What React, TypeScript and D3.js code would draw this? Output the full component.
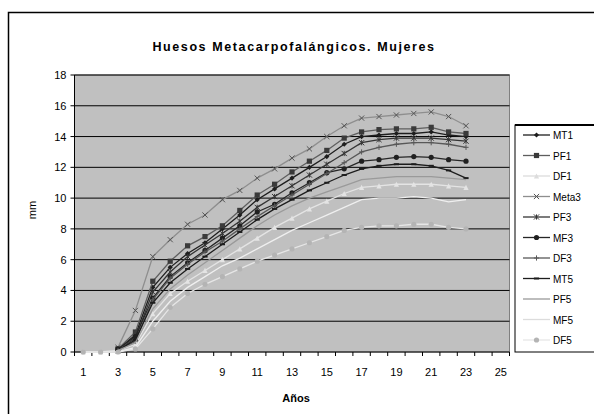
import React from "react";
import * as d3 from "d3";

const categories: number[] = d3.range(1, 26);
const tickLabels: number[] = [1, 3, 5, 7, 9, 11, 13, 15, 17, 19, 21, 23, 25];
const yTicks: number[] = [0, 2, 4, 6, 8, 10, 12, 14, 16, 18];

const seriesNames = ["MT1", "PF1", "DF1", "Meta3", "PF3", "MF3", "DF3", "MT5", "PF5", "MF5", "DF5"];

type V = number | null;
const MT1: V[] = [null, null, 0.2, 1.1, 4.2, 5.5, 6.4, 7.1, 8.0, 8.9, 9.9, 10.6, 11.3, 12.0, 12.7, 13.5, 14.0, 14.1, 14.2, 14.2, 14.3, 14.1, 14.0];
const PF1: V[] = [null, null, 0.2, 1.3, 4.6, 5.9, 6.9, 7.5, 8.2, 9.2, 10.2, 10.9, 11.7, 12.4, 13.1, 13.9, 14.3, 14.45, 14.5, 14.5, 14.6, 14.3, 14.2];
const DF1: V[] = [0, 0, 0.1, 0.5, 2.5, 3.8, 4.6, 5.3, 6.0, 6.7, 7.4, 8.1, 8.7, 9.3, 9.8, 10.3, 10.7, 10.8, 10.9, 10.9, 10.9, 10.8, 10.7];
const Meta3: V[] = [null, null, 0.3, 2.7, 6.2, 7.3, 8.3, 8.9, 9.9, 10.5, 11.3, 11.9, 12.6, 13.2, 14.0, 14.7, 15.2, 15.3, 15.4, 15.5, 15.6, 15.3, 14.7];
const PF3: V[] = [null, null, 0.1, 0.9, 3.9, 5.2, 6.2, 6.95, 7.7, 8.5, 9.4, 10.1, 10.8, 11.5, 12.2, 12.9, 13.6, 13.8, 13.9, 13.9, 13.9, 13.8, 13.7];
const MF3: V[] = [null, null, 0.2, 1.0, 3.5, 4.9, 5.8, 6.6, 7.4, 8.2, 9.1, 9.6, 10.35, 11.0, 11.65, 11.9, 12.4, 12.5, 12.65, 12.7, 12.65, 12.5, 12.4];
const DF3: V[] = [null, null, 0.1, 0.7, 3.4, 4.8, 5.7, 6.5, 7.2, 8.0, 8.8, 9.5, 10.2, 10.9, 11.6, 12.3, 13.0, 13.3, 13.5, 13.6, 13.6, 13.5, 13.3];
const MT5: V[] = [null, null, 0.1, 0.8, 3.2, 4.5, 5.4, 6.2, 7.0, 7.8, 8.6, 9.3, 9.9, 10.5, 11.0, 11.5, 11.9, 12.1, 12.2, 12.2, 12.1, 11.8, 11.3];
const PF5: V[] = [null, null, 0.1, 0.6, 2.8, 4.1, 5.0, 5.8, 6.6, 7.4, 8.2, 8.9, 9.5, 10.0, 10.4, 10.8, 11.2, 11.3, 11.4, 11.4, 11.4, 11.3, 11.2];
const MF5: V[] = [0, 0, 0, 0.3, 2.0, 3.3, 4.2, 4.9, 5.6, 6.1, 6.7, 7.3, 7.9, 8.4, 8.9, 9.4, 9.9, 10.0, 10.0, 10.1, 10.0, 9.75, 9.9];
const DF5: V[] = [0, 0, 0, 0.2, 1.5, 2.9, 3.8, 4.4, 4.9, 5.4, 5.9, 6.3, 6.7, 7.1, 7.5, 7.9, 8.1, 8.2, 8.2, 8.3, 8.3, 8.1, 8.0];

const seriesValues: V[][] = [MT1, PF1, DF1, Meta3, PF3, MF3, DF3, MT5, PF5, MF5, DF5];

const lineColors = ["#1e1e1e", "#5e5e5e", "#e4e4e4", "#8e8e8e", "#353535", "#262626", "#585858", "#1d1d1d", "#9a9a9a", "#efefef", "#e6e6e6"];
const markerColors = ["#1e1e1e", "#3a3a3a", "#e4e4e4", "#555555", "#353535", "#202020", "#585858", "#1d1d1d", "#9a9a9a", "#efefef", "#b4b4b4"];
const markerTypes = ["diamond", "square", "triangle", "x", "star", "circle", "plus", "dash", "none", "none", "circle"];

const W = 594, H = 414;
const plotL = 74.5, plotR = 509.5, plotT = 75, plotB = 352;

function Marker({ type, x, y, color }: { type: string; x: number; y: number; color: string }) {
  const s = 2.6;
  switch (type) {
    case "diamond":
      return <path d={`M${x},${y - s}L${x + s},${y}L${x},${y + s}L${x - s},${y}Z`} fill={color} />;
    case "square":
      return <rect x={x - s} y={y - s} width={2 * s} height={2 * s} fill={color} />;
    case "triangle":
      return <path d={`M${x},${y - s}L${x + s},${y + s}L${x - s},${y + s}Z`} fill={color} />;
    case "x":
      return <path d={`M${x - s},${y - s}L${x + s},${y + s}M${x - s},${y + s}L${x + s},${y - s}`} stroke={color} strokeWidth={1} />;
    case "star":
      return <path d={`M${x - s},${y - s}L${x + s},${y + s}M${x - s},${y + s}L${x + s},${y - s}M${x},${y - s}L${x},${y + s}`} stroke={color} strokeWidth={1} />;
    case "circle":
      return <circle cx={x} cy={y} r={s} fill={color} />;
    case "plus":
      return <path d={`M${x - s},${y}L${x + s},${y}M${x},${y - s}L${x},${y + s}`} stroke={color} strokeWidth={1} />;
    case "dash":
      return <path d={`M${x - s},${y}L${x + s},${y}`} stroke={color} strokeWidth={2} />;
    default:
      return null;
  }
}

export default function App() {
  const x = d3.scaleBand<number>().domain(categories).range([plotL, plotR]);
  const y = d3.scaleLinear().domain([0, 18]).range([plotB, plotT]);
  const cx = (c: number) => (x(c) as number) + x.bandwidth() / 2;
  const line = d3
    .line<V>()
    .defined((d) => d !== null)
    .x((_, i) => cx(categories[i]))
    .y((d) => y(d as number));

  const font = "'Liberation Sans', Arial, sans-serif";
  const legX = 515, legT = 125, legB = 352;
  const legStep = 20.5, legY0 = 135;

  return (
    <svg width={W} height={H} style={{ position: "absolute", left: 0, top: 0, background: "#fff" }} fontFamily={font}>
      <rect x={8.5} y={12.5} width={W + 20} height={H + 20} fill="#fff" stroke="#000" strokeWidth={1.5} />
      <text x={294} y={51} textAnchor="middle" fontSize={12.5} fontWeight="bold" letterSpacing={1.6}>
        Huesos Metacarpofalángicos. Mujeres
      </text>
      <rect x={plotL} y={plotT} width={plotR - plotL} height={plotB - plotT} fill="#c0c0c0" stroke="#808080" strokeWidth={1} />
      {yTicks.map((t) => (
        <g key={t}>
          {t > 0 && <line x1={plotL} x2={plotR} y1={y(t)} y2={y(t)} stroke="#000" strokeWidth={1} />}
          <line x1={plotL - 4} x2={plotL} y1={y(t)} y2={y(t)} stroke="#000" />
          <text x={plotL - 8} y={y(t) + 4} textAnchor="end" fontSize={11}>
            {t}
          </text>
        </g>
      ))}
      <line x1={plotL} x2={plotL} y1={plotT} y2={plotB} stroke="#000" />
      <line x1={plotL} x2={plotR} y1={plotB} y2={plotB} stroke="#000" />
      {categories.map((c) => (
        <line key={c} x1={x(c) as number} x2={x(c) as number} y1={plotB} y2={plotB + 4} stroke="#000" />
      ))}
      <line x1={plotR} x2={plotR} y1={plotB} y2={plotB + 4} stroke="#000" />
      {tickLabels.map((c) => (
        <text key={c} x={cx(c)} y={plotB + 24} textAnchor="middle" fontSize={11}>
          {c}
        </text>
      ))}
      <text x={296} y={402} textAnchor="middle" fontSize={11} fontWeight="bold">
        Años
      </text>
      <text transform={`translate(36,210) rotate(-90)`} textAnchor="middle" fontSize={11}>
        mm
      </text>
      {seriesValues.map((vals, si) => (
        <g key={seriesNames[si]}>
          <path d={line(vals) || ""} fill="none" stroke={lineColors[si]} strokeWidth={1.3} />
          {vals.map((v, i) =>
            v === null ? null : (
              <Marker key={i} type={markerTypes[si]} x={cx(categories[i])} y={y(v)} color={markerColors[si]} />
            )
          )}
        </g>
      ))}
      <rect x={legX} y={legT} width={W} height={legB - legT} fill="#fff" stroke="#000" strokeWidth={1} />
      <line x1={legX} x2={W} y1={legT} y2={legT} stroke="#000" strokeWidth={2} />
      {seriesNames.map((n, i) => {
        const ly = legY0 + i * legStep;
        return (
          <g key={n}>
            <line x1={523} x2={550} y1={ly} y2={ly} stroke={lineColors[i] === "#efefef" || lineColors[i] === "#e4e4e4" ? "#dcdcdc" : lineColors[i]} strokeWidth={1.3} />
            <Marker type={markerTypes[i]} x={536.5} y={ly} color={markerColors[i] === "#efefef" || markerColors[i] === "#e4e4e4" ? "#dcdcdc" : markerColors[i]} />
            <text x={553} y={ly + 4} fontSize={10}>
              {n}
            </text>
          </g>
        );
      })}
    </svg>
  );
}
